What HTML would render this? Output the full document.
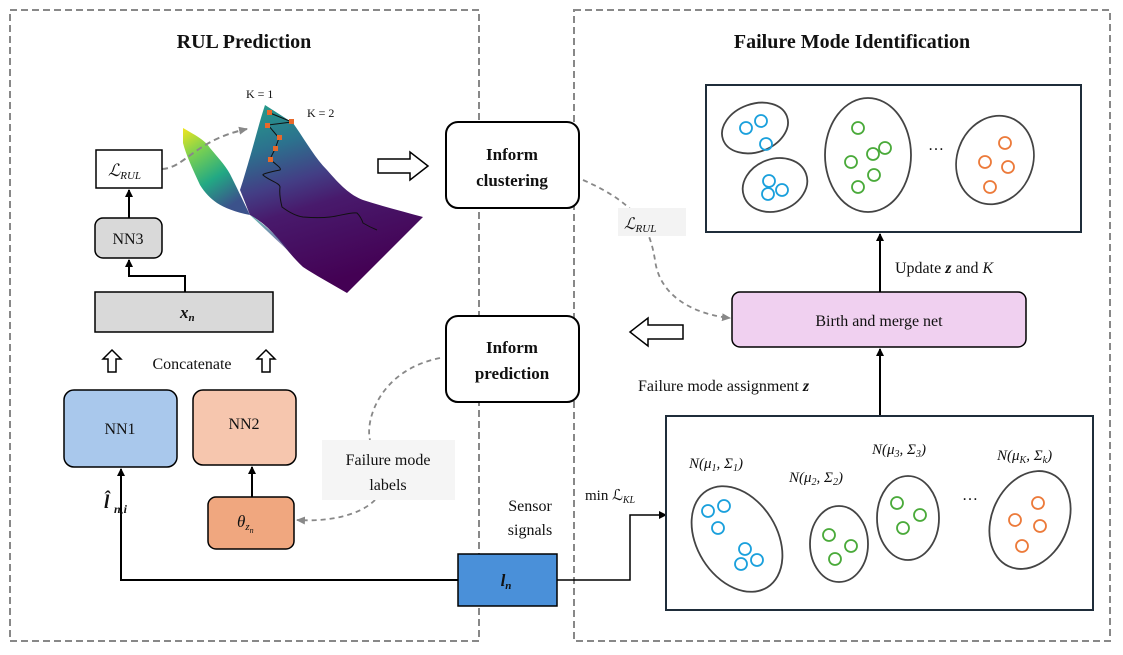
<!DOCTYPE html>
<html><head><meta charset="utf-8"><style>
html,body{margin:0;padding:0;background:#fff}
svg{display:block}
text{font-family:"Liberation Serif",serif;fill:#111}
</style></head><body>
<svg width="1123" height="655" viewBox="0 0 1123 655" xmlns="http://www.w3.org/2000/svg">
<defs>
<marker id="a" markerWidth="8" markerHeight="8" refX="7" refY="4" orient="auto" markerUnits="userSpaceOnUse"><path d="M0,0 L8,4 L0,8 z" fill="#000"/></marker>
<marker id="g" markerWidth="10" markerHeight="10" refX="8" refY="5" orient="auto" markerUnits="userSpaceOnUse"><path d="M0,1 L9,5 L0,9 z" fill="#888"/></marker>
<linearGradient id="yw" x1="0" y1="0" x2="0.5" y2="1"><stop offset="0" stop-color="#f2e51d"/><stop offset="0.3" stop-color="#7ad151"/><stop offset="0.65" stop-color="#22a884"/><stop offset="1" stop-color="#3b528b"/></linearGradient>
<linearGradient id="pw" x1="0" y1="0" x2="0.3" y2="1"><stop offset="0" stop-color="#25a08a"/><stop offset="0.25" stop-color="#2c728e"/><stop offset="0.45" stop-color="#433e85"/><stop offset="0.6" stop-color="#481a6c"/><stop offset="1" stop-color="#440154"/></linearGradient>
<linearGradient id="mid" x1="0" y1="0" x2="1" y2="1"><stop offset="0" stop-color="#2a9d8f"/><stop offset="0.5" stop-color="#3b528b"/><stop offset="1" stop-color="#440154" stop-opacity="0"/></linearGradient>
</defs>
<rect x="10" y="10" width="469" height="631" fill="none" stroke="#888" stroke-width="2" stroke-dasharray="7,4"/>
<rect x="574" y="10" width="536" height="631" fill="none" stroke="#888" stroke-width="2" stroke-dasharray="7,4"/>
<text x="244" y="48" text-anchor="middle" font-size="20" font-weight="bold">RUL Prediction</text>
<text x="852" y="48" text-anchor="middle" font-size="20" font-weight="bold">Failure Mode Identification</text>

<!-- surface -->
<path d="M265,105 L293,123 C305,140 315,158 327,170 C340,185 350,195 363,200 C385,207 405,212 423,217 L347,293 C330,283 315,275 303,267 C290,255 280,240 270,230 C262,222 255,218 250,215 C246,205 243,197 240,190 C244,178 247,167 250,157 C255,140 260,120 265,105 Z" fill="url(#pw)"/>
<path d="M183,128 C195,135 205,140 210,148 C220,160 227,167 232,178 C238,190 244,203 250,215 C235,212 225,208 217,203 C210,198 205,193 200,185 C193,170 186,155 183,143 Z" fill="url(#yw)"/>
<path d="M250,215 C262,222 272,232 285,245 L300,262 C285,248 268,232 250,215 Z" fill="url(#mid)" opacity="0.7"/>
<path d="M270,113 L292,122 L268,125 L279,138 L275,149 L270,159 C276,165 282,168 280,170 C270,172 262,174 263,175 C268,180 280,183 280,187 C279,195 281,203 282,207 C290,213 296,216 303,217 C315,218 322,218 330,217 C340,216 350,212 357,213 C360,216 362,220 363,223 C368,226 372,228 377,230" fill="none" stroke="#111" stroke-width="1"/>
<g fill="#e8692a"><rect x="267" y="110" width="5" height="5"/><rect x="289" y="119" width="5" height="5"/><rect x="265" y="123" width="5" height="5"/><rect x="277" y="135" width="5" height="5"/><rect x="273" y="146" width="5" height="5"/><rect x="268" y="157" width="5" height="5"/><rect x="151" y="167" width="5" height="5"/></g>
<text x="246" y="98" font-size="12" font-family="Liberation Mono">K = 1</text>
<text x="307" y="117" font-size="12" font-family="Liberation Mono">K = 2</text>
<path d="M162,169 C185,168 195,140 247,129" fill="none" stroke="#888" stroke-width="2" stroke-dasharray="6,4" marker-end="url(#g)"/>

<!-- left boxes -->
<rect x="96" y="150" width="66" height="38" fill="#fff" stroke="#000" stroke-width="1.5"/>
<text x="108" y="176" font-size="17" font-style="italic">ℒ<tspan font-size="11" dy="3">RUL</tspan></text>
<line x1="129" y1="218" x2="129" y2="190" stroke="#000" stroke-width="2" marker-end="url(#a)"/>
<rect x="95" y="218" width="67" height="40" rx="8" fill="#d9d9d9" stroke="#000" stroke-width="1.5"/>
<text x="128" y="244" text-anchor="middle" font-size="16">NN3</text>
<polyline points="185,292 185,276 129,276 129,260" fill="none" stroke="#000" stroke-width="2" marker-end="url(#a)"/>
<rect x="95" y="292" width="178" height="40" fill="#d9d9d9" stroke="#000" stroke-width="1.5"/>
<text x="180" y="318" font-size="17" font-style="italic" font-weight="bold">x<tspan font-size="11" dy="3">n</tspan></text>
<path d="M112,350 L121,359 L116,359 L116,372 L108,372 L108,359 L103,359 Z" fill="#fff" stroke="#000" stroke-width="1.5"/>
<path d="M266,350 L275,359 L270,359 L270,372 L262,372 L262,359 L257,359 Z" fill="#fff" stroke="#000" stroke-width="1.5"/>
<text x="192" y="369" text-anchor="middle" font-size="16">Concatenate</text>
<rect x="64" y="390" width="113" height="77" rx="10" fill="#a9c8ec" stroke="#000" stroke-width="1.5"/>
<text x="120" y="434" text-anchor="middle" font-size="16">NN1</text>
<rect x="193" y="390" width="103" height="75" rx="10" fill="#f6c6ae" stroke="#000" stroke-width="1.5"/>
<text x="244" y="429" text-anchor="middle" font-size="16">NN2</text>
<rect x="208" y="497" width="86" height="52" rx="8" fill="#f0a77f" stroke="#000" stroke-width="1.5"/>
<text x="237" y="527" font-size="17" font-style="italic">θ<tspan font-size="11" dy="3">z</tspan><tspan font-size="8" dy="3">n</tspan></text>
<line x1="252" y1="497" x2="252" y2="467" stroke="#000" stroke-width="2" marker-end="url(#a)"/>
<rect x="458" y="554" width="99" height="52" fill="#4a90d9" stroke="#000" stroke-width="1.5"/>
<text x="506" y="586" text-anchor="middle" font-size="17" font-style="italic" font-weight="bold">l<tspan font-size="11" dy="3">n</tspan></text>
<polyline points="458,580 121,580 121,469" fill="none" stroke="#000" stroke-width="2" marker-end="url(#a)"/>
<text x="104" y="508" font-size="19" font-style="italic" font-weight="bold">l̂</text>
<text x="114" y="513" font-size="12" font-style="italic" font-weight="bold">n,i</text>
<text x="530" y="511" text-anchor="middle" font-size="16">Sensor</text>
<text x="530" y="535" text-anchor="middle" font-size="16">signals</text>

<!-- middle -->
<rect x="446" y="122" width="133" height="86" rx="12" fill="#fff" stroke="#000" stroke-width="2"/>
<text x="512" y="160" text-anchor="middle" font-size="17" font-weight="bold">Inform</text>
<text x="512" y="186" text-anchor="middle" font-size="17" font-weight="bold">clustering</text>
<rect x="446" y="316" width="133" height="86" rx="12" fill="#fff" stroke="#000" stroke-width="2"/>
<text x="512" y="353" text-anchor="middle" font-size="17" font-weight="bold">Inform</text>
<text x="512" y="379" text-anchor="middle" font-size="17" font-weight="bold">prediction</text>
<path d="M378,159 L410,159 L410,152 L428,166 L410,180 L410,173 L378,173 Z" fill="#fff" stroke="#000" stroke-width="1.5"/>
<path d="M683,325 L648,325 L648,318 L630,332 L648,346 L648,339 L683,339 Z" fill="#fff" stroke="#000" stroke-width="1.5"/>
<path d="M583,180 C640,205 650,230 655,260 C660,300 700,315 730,318" fill="none" stroke="#888" stroke-width="1.8" stroke-dasharray="5,4" marker-end="url(#g)"/>
<rect x="618" y="208" width="68" height="28" fill="#f3f3f3"/>
<text x="624" y="229" font-size="16" font-style="italic">ℒ<tspan font-size="11" dy="3">RUL</tspan></text>
<path d="M440,358 C380,370 365,420 370,440 M375,500 C360,515 330,522 297,520" fill="none" stroke="#888" stroke-width="1.8" stroke-dasharray="5,4" marker-end="url(#g)"/>
<rect x="322" y="440" width="133" height="60" fill="#f5f5f5"/>
<text x="388" y="465" text-anchor="middle" font-size="16">Failure mode</text>
<text x="388" y="490" text-anchor="middle" font-size="16">labels</text>

<!-- right -->
<rect x="706" y="85" width="375" height="147" fill="#fff" stroke="#1f2d3a" stroke-width="2"/>
<g fill="none" stroke="#444" stroke-width="1.8">
<ellipse cx="755" cy="128" rx="34" ry="24" transform="rotate(-20 755 128)"/>
<ellipse cx="775" cy="185" rx="33" ry="26" transform="rotate(-20 775 185)"/>
<ellipse cx="868" cy="155" rx="43" ry="57"/>
<ellipse cx="995" cy="160" rx="38" ry="45" transform="rotate(20 995 160)"/>
</g>
<g fill="none" stroke-width="1.8">
<g stroke="#1aa0dc"><circle cx="746" cy="128" r="6"/><circle cx="761" cy="121" r="6"/><circle cx="766" cy="144" r="6"/><circle cx="769" cy="181" r="6"/><circle cx="768" cy="194" r="6"/><circle cx="782" cy="190" r="6"/></g>
<g stroke="#4aaa3a"><circle cx="858" cy="128" r="6"/><circle cx="885" cy="148" r="6"/><circle cx="873" cy="154" r="6"/><circle cx="851" cy="162" r="6"/><circle cx="874" cy="175" r="6"/><circle cx="858" cy="187" r="6"/></g>
<g stroke="#ec7a3a"><circle cx="1005" cy="143" r="6"/><circle cx="985" cy="162" r="6"/><circle cx="1008" cy="167" r="6"/><circle cx="990" cy="187" r="6"/></g>
</g>
<text x="928" y="150" font-size="16">…</text>
<line x1="880" y1="292" x2="880" y2="234" stroke="#000" stroke-width="2" marker-end="url(#a)"/>
<text x="895" y="273" font-size="16">Update <tspan font-style="italic" font-weight="bold">z</tspan> and <tspan font-style="italic">K</tspan></text>
<rect x="732" y="292" width="294" height="55" rx="8" fill="#f0d0f0" stroke="#000" stroke-width="1.5"/>
<text x="879" y="326" text-anchor="middle" font-size="16">Birth and merge net</text>
<line x1="880" y1="416" x2="880" y2="349" stroke="#000" stroke-width="2" marker-end="url(#a)"/>
<text x="638" y="391" font-size="16">Failure mode assignment <tspan font-style="italic" font-weight="bold">z</tspan></text>
<polyline points="557,580 630,580 630,515 666,515" fill="none" stroke="#000" stroke-width="1.5" marker-end="url(#a)"/>
<text x="585" y="500" font-size="15">min ℒ<tspan font-size="10" dy="3" font-style="italic">KL</tspan></text>
<rect x="666" y="416" width="427" height="194" fill="#fff" stroke="#1f2d3a" stroke-width="2"/>
<g font-size="15" font-style="italic">
<text x="689" y="468">N(μ<tspan font-size="10" dy="3">1</tspan><tspan dy="-3">, Σ</tspan><tspan font-size="10" dy="3">1</tspan><tspan dy="-3">)</tspan></text>
<text x="789" y="482">N(μ<tspan font-size="10" dy="3">2</tspan><tspan dy="-3">, Σ</tspan><tspan font-size="10" dy="3">2</tspan><tspan dy="-3">)</tspan></text>
<text x="872" y="454">N(μ<tspan font-size="10" dy="3">3</tspan><tspan dy="-3">, Σ</tspan><tspan font-size="10" dy="3">3</tspan><tspan dy="-3">)</tspan></text>
<text x="997" y="460">N(μ<tspan font-size="10" dy="3">K</tspan><tspan dy="-3">, Σ</tspan><tspan font-size="10" dy="3">k</tspan><tspan dy="-3">)</tspan></text>
</g>
<g fill="none" stroke="#444" stroke-width="1.8">
<ellipse cx="737" cy="539" rx="40" ry="57" transform="rotate(-32 737 539)"/>
<ellipse cx="839" cy="544" rx="29" ry="38"/>
<ellipse cx="908" cy="518" rx="31" ry="42"/>
<ellipse cx="1030" cy="520" rx="38" ry="51" transform="rotate(25 1030 520)"/>
</g>
<g fill="none" stroke-width="1.8">
<g stroke="#1aa0dc"><circle cx="708" cy="511" r="6"/><circle cx="724" cy="506" r="6"/><circle cx="718" cy="528" r="6"/><circle cx="745" cy="549" r="6"/><circle cx="757" cy="560" r="6"/><circle cx="741" cy="564" r="6"/></g>
<g stroke="#4aaa3a"><circle cx="829" cy="535" r="6"/><circle cx="851" cy="546" r="6"/><circle cx="835" cy="559" r="6"/><circle cx="897" cy="503" r="6"/><circle cx="920" cy="515" r="6"/><circle cx="903" cy="528" r="6"/></g>
<g stroke="#ec7a3a"><circle cx="1038" cy="503" r="6"/><circle cx="1015" cy="520" r="6"/><circle cx="1040" cy="526" r="6"/><circle cx="1022" cy="546" r="6"/></g>
</g>
<text x="962" y="500" font-size="16">…</text>
</svg>
</body></html>
